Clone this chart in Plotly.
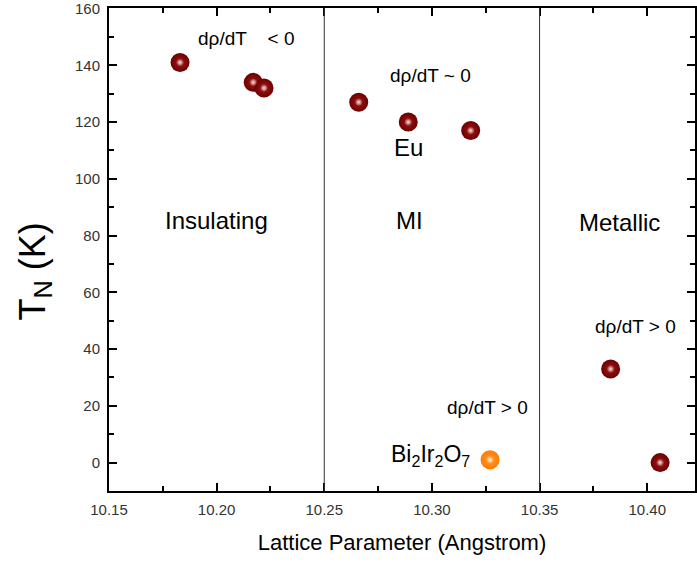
import plotly.graph_objects as go

# Data
lattice = [10.183, 10.217, 10.222, 10.266, 10.289, 10.318, 10.383, 10.406]
tn = [141, 134, 132, 127, 120, 117, 33, 0]
bi_lattice = [10.327]
bi_tn = [1]
phase_boundaries = [10.25, 10.35]
y_ticks = [0, 20, 40, 60, 80, 100, 120, 140, 160]
x_ticks = [10.15, 10.20, 10.25, 10.30, 10.35, 10.40]

FONT = "Liberation Sans, Arial, sans-serif"

fig = go.Figure()
# sphere bodies
fig.add_trace(go.Scatter(
    x=lattice, y=tn, mode="markers",
    marker=dict(size=19, color="#6e0000", line=dict(width=0),
                gradient=dict(type="radial", color="#a01818")),
    showlegend=False, hoverinfo="x+y"))
fig.add_trace(go.Scatter(
    x=bi_lattice, y=bi_tn, mode="markers",
    marker=dict(size=19, color="#ff7a00", line=dict(width=0),
                gradient=dict(type="radial", color="#ff9a30")),
    showlegend=False, hoverinfo="x+y"))
# specular highlights
fig.add_trace(go.Scatter(
    x=lattice, y=tn, mode="markers",
    marker=dict(size=8, color="rgba(255,255,255,0)", line=dict(width=0),
                gradient=dict(type="radial", color="rgba(255,235,235,0.95)")),
    showlegend=False, hoverinfo="skip"))
fig.add_trace(go.Scatter(
    x=bi_lattice, y=bi_tn, mode="markers",
    marker=dict(size=8, color="rgba(255,255,255,0)", line=dict(width=0),
                gradient=dict(type="radial", color="rgba(255,245,230,0.95)")),
    showlegend=False, hoverinfo="skip"))

for b in phase_boundaries:
    fig.add_shape(type="line", xref="x", yref="paper", x0=b, x1=b, y0=0, y1=1,
                  line=dict(color="#333333", width=1))

ann = [
    ("dρ/dT    &lt; 0", 10.2139, 149.5, 19),
    ("dρ/dT ~ 0", 10.2995, 136.4, 19),
    ("Eu", 10.2889, 111.1, 24),
    ("Insulating", 10.2, 85.4, 24),
    ("MI", 10.2894, 85.4, 24),
    ("Metallic", 10.387, 84.7, 24),
    ("dρ/dT &gt; 0", 10.3944, 47.8, 19),
    ("dρ/dT &gt; 0", 10.326, 19.3, 19),
]
for text, x, y, size in ann:
    fig.add_annotation(x=x, y=y, text=text, showarrow=False, xanchor="center",
                       yanchor="middle", font=dict(family=FONT, size=size, color="black"))
fig.add_annotation(x=10.3185, y=2.5, text="Bi<sub>2</sub>Ir<sub>2</sub>O<sub>7</sub>",
                   showarrow=False, xanchor="right", yanchor="middle",
                   font=dict(family=FONT, size=23, color="black"))

# y-axis title
fig.add_annotation(xref="paper", yref="paper", x=-0.126, y=0.455, textangle=-90,
                   text="T<sub>N</sub> (K)", showarrow=False, xanchor="center", yanchor="middle",
                   font=dict(family=FONT, size=36, color="black"))

axis_common = dict(
    showline=True, linecolor="black", linewidth=2, mirror="ticks",
    ticks="inside", ticklen=8, tickwidth=2, tickcolor="black",
    showgrid=False, zeroline=False, ticklabeloverflow="allow",
    tickfont=dict(family=FONT, size=15, color="#333333"),
)

fig.update_xaxes(
    range=[10.15, 10.4222], tickmode="array", tickvals=x_ticks,
    ticktext=[f"{v:.2f}" for v in x_ticks],
    ticklabelstandoff=4,
    minor=dict(ticks="inside", ticklen=5, tickwidth=1.5, tickcolor="black",
               tickmode="linear", tick0=10.15, dtick=0.025, showgrid=False),
    title=dict(text="Lattice Parameter (Angstrom)", font=dict(family=FONT, size=22, color="black"), standoff=18),
    **axis_common)
fig.update_yaxes(
    range=[-10, 160.2], tickmode="array", tickvals=y_ticks,
    ticktext=[str(v) for v in y_ticks],
    ticklabelstandoff=4,
    minor=dict(ticks="inside", ticklen=5, tickwidth=1.5, tickcolor="black",
               tickmode="linear", tick0=0, dtick=10, showgrid=False),
    **axis_common)

fig.update_layout(
    width=697, height=563,
    margin=dict(l=109, r=0, t=8, b=72),
    plot_bgcolor="white", paper_bgcolor="white",
    font=dict(family=FONT),
)

fig.write_html("out.html")
